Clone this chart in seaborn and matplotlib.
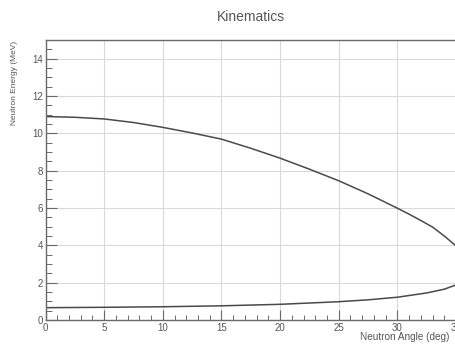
import numpy as np
import pandas as pd
import seaborn as sns
import matplotlib
matplotlib.use("Agg")
import matplotlib.pyplot as plt
from matplotlib.ticker import MultipleLocator

# Data
angle_upper = [0, 2.5, 5, 7.5, 10, 12.5, 15, 17.5, 20, 22.5, 25, 27.5, 30, 31, 32, 33, 34, 35]
energy_upper = [10.90, 10.86, 10.77, 10.58, 10.32, 10.02, 9.69, 9.20, 8.67, 8.08, 7.46, 6.76, 5.99, 5.67, 5.33, 4.98, 4.50, 3.97]
angle_lower = [0, 5, 10, 15, 20, 25, 27.5, 30, 32.5, 34, 35]
energy_lower = [0.66, 0.68, 0.71, 0.76, 0.84, 0.98, 1.08, 1.22, 1.45, 1.65, 1.88]

title = "Kinematics"
xlabel = "Neutron Angle (deg)"
ylabel = "Neutron Energy (MeV)"

sns.set_style("white")
plt.rcParams['font.family'] = ['Liberation Sans', 'DejaVu Sans']

df_u = pd.DataFrame({"angle": angle_upper, "energy": energy_upper})
df_l = pd.DataFrame({"angle": angle_lower, "energy": energy_lower})

fig = plt.figure(figsize=(4.56, 3.44), dpi=100)
ax = fig.add_axes([45.5 / 456, 1 - 320 / 344, 1 - 45.5 / 456, (320 - 40) / 344])

line_col = "#4a4a4a"
sns.lineplot(data=df_u, x="angle", y="energy", ax=ax, color=line_col, lw=1.1, sort=False)
sns.lineplot(data=df_l, x="angle", y="energy", ax=ax, color=line_col, lw=1.1, sort=False)

ax.set_xlim(0, 35)
ax.set_ylim(0, 15)
ax.xaxis.set_major_locator(MultipleLocator(5))
ax.xaxis.set_minor_locator(MultipleLocator(1))
ax.yaxis.set_major_locator(MultipleLocator(2))
ax.yaxis.set_minor_locator(MultipleLocator(0.5))
ax.grid(True, which="major", color="#d9d9d9", lw=0.8)
ax.set_axisbelow(True)

for s in ax.spines.values():
    s.set_color("#6a6a6a")
    s.set_linewidth(1.0)

ax.tick_params(axis="both", which="major", direction="in", length=8, width=0.8,
               color="#6a6a6a", labelsize=7, labelcolor="#555555", pad=2)
ax.tick_params(axis="both", which="minor", direction="in", length=4, width=0.7,
               color="#6a6a6a")
ax.tick_params(axis="x", which="major", length=7)
ax.tick_params(axis="x", which="minor", length=3.5)
ax.tick_params(left=True, bottom=True, right=False, top=False, which="both")

ax.set_xlabel("")
ax.set_ylabel("")
fig.text(360 / 456, 1 - 342 / 344, xlabel, ha="left", va="bottom", fontsize=7.2, color="#555555")
fig.text(15 / 456, 1 - 41 / 344, ylabel, ha="center", va="top", rotation=90,
         fontsize=6, color="#555555")
fig.text((45.5 + 456) / 2 / 456, 1 - 17 / 344, title, ha="center", va="center",
         fontsize=10, color="#555555")

fig.savefig("out.png", dpi=100)
